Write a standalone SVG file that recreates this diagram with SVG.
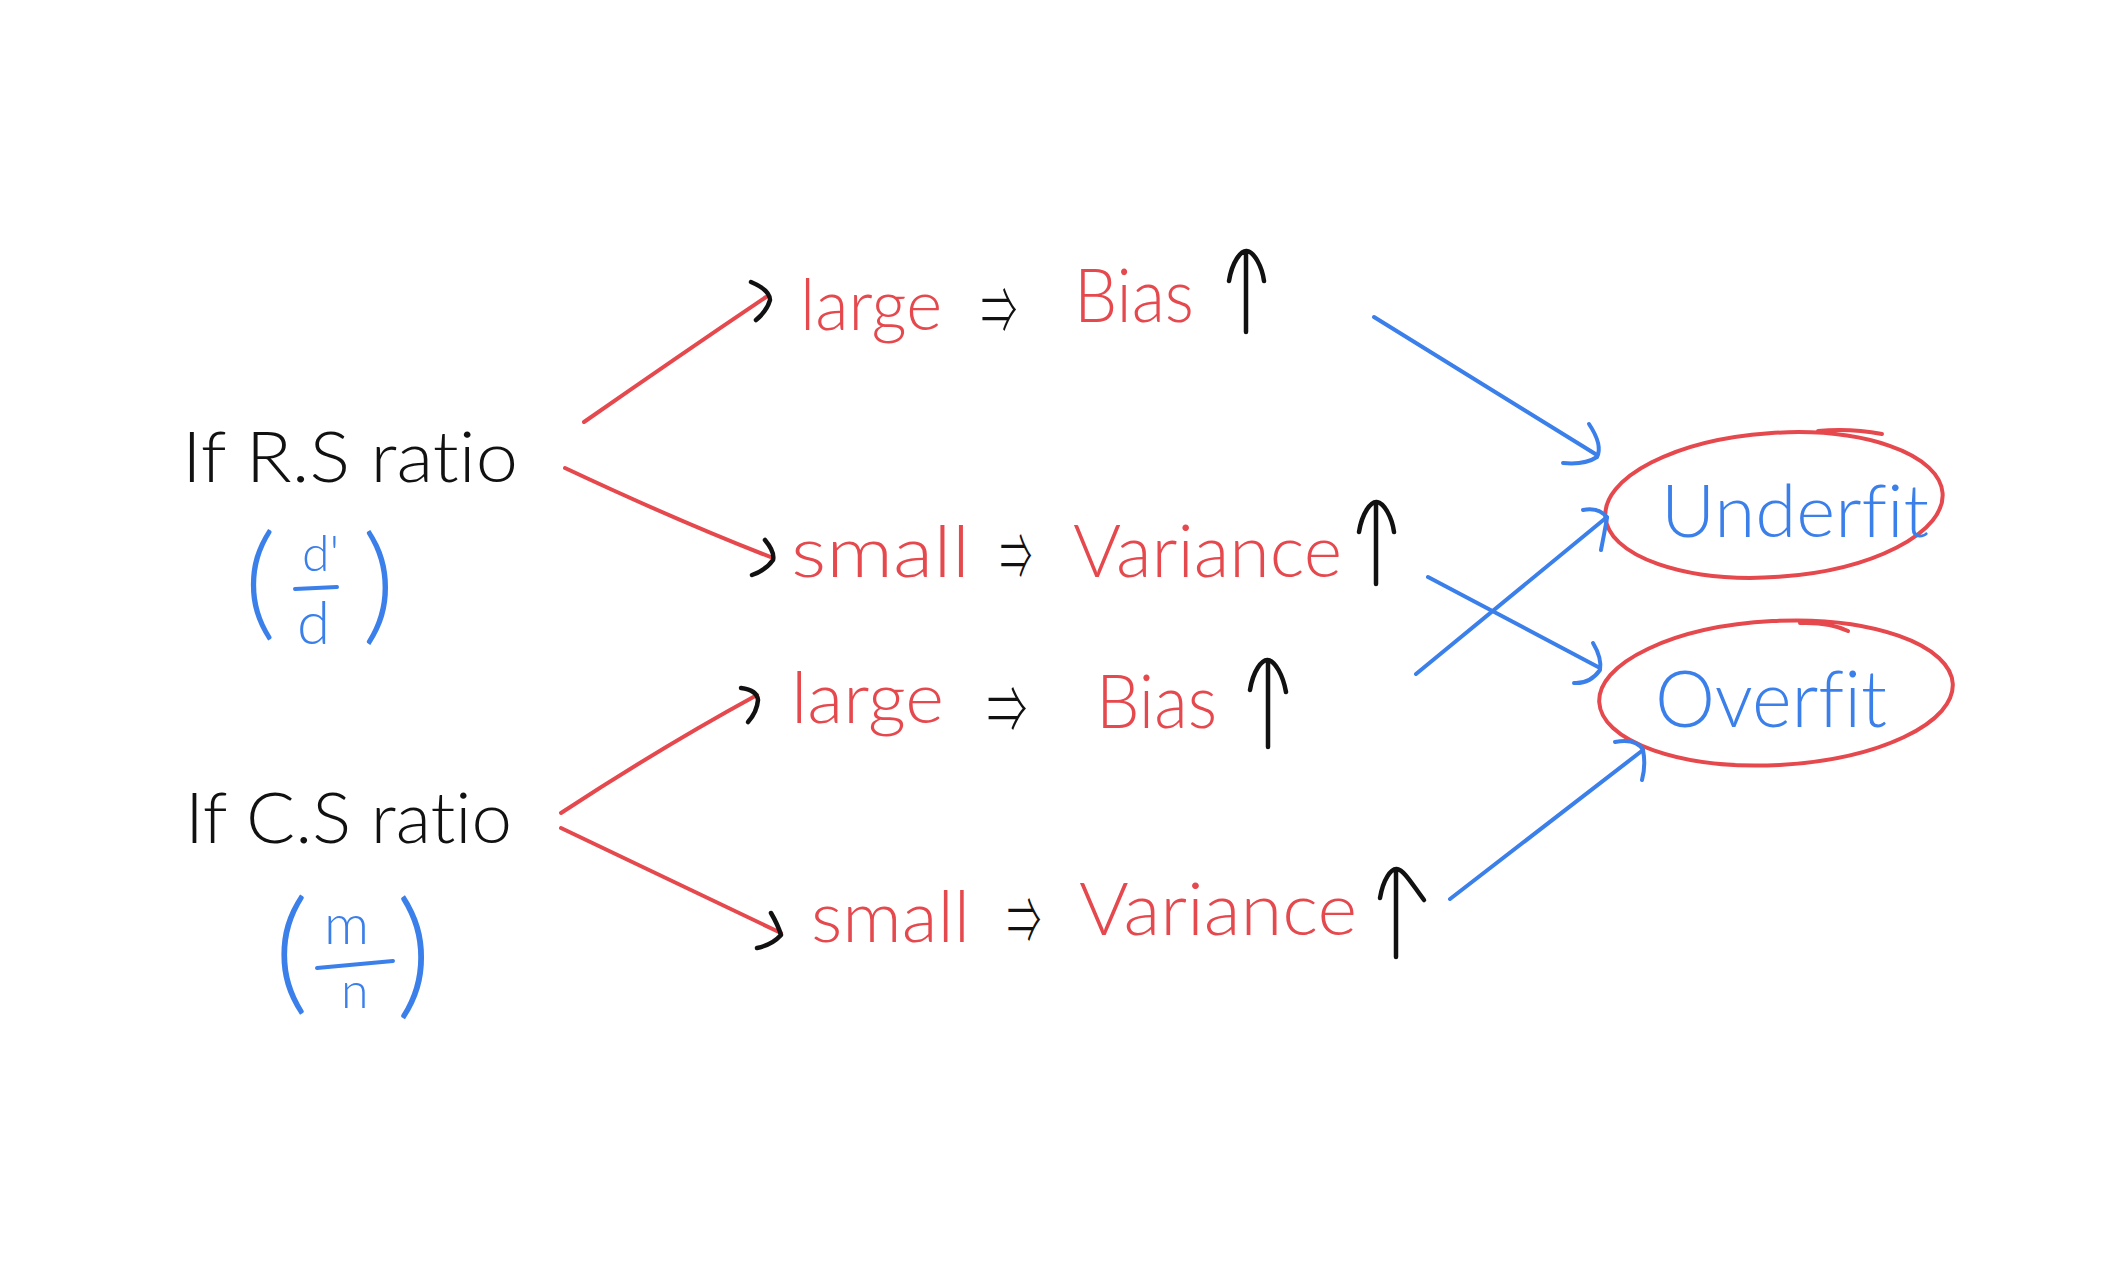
<svg xmlns="http://www.w3.org/2000/svg" width="2119" height="1280" viewBox="0 0 2119 1280">
<style>
.hw{font-family:Lato,"Open Sans","DejaVu Sans",sans-serif;font-weight:300;font-variant-ligatures:none}
.k{fill:#111111}
.r{fill:#E5484D}
.b{fill:#3B7FEA}
.sym{font-family:"Noto Sans CJK SC","DejaVu Sans",sans-serif;fill:#111111;font-weight:300}
.lr{fill:none;stroke:#E5484D;stroke-width:4;stroke-linecap:round;stroke-linejoin:round}
.lk{fill:none;stroke:#111111;stroke-width:4.5;stroke-linecap:round;stroke-linejoin:round}
.lb{fill:none;stroke:#3B7FEA;stroke-width:4;stroke-linecap:round;stroke-linejoin:round}
</style>
<rect width="2119" height="1280" fill="#ffffff"/>

<g id="rs-ratio">
<text class="hw k" x="182" y="482" font-size="70" textLength="336" lengthAdjust="spacingAndGlyphs">If R.S ratio</text>
</g>
<g id="rs-fraction">
<text class="hw b" x="244" y="624" font-size="125">(</text>
<text class="hw b"><tspan x="302" y="571" font-size="50">d'</tspan><tspan x="297" y="644" font-size="60">d</tspan></text>
<path class="lb" d="M295 589 L337 587"/>
<text class="hw b" x="362" y="628" font-size="128">)</text>
</g>

<g id="cs-ratio">
<text class="hw k" x="185" y="843" font-size="70" textLength="327" lengthAdjust="spacingAndGlyphs">If C.S ratio</text>
</g>
<g id="cs-fraction">
<text class="hw b" x="274" y="997" font-size="135">(</text>
<text class="hw b"><tspan x="324" y="944" font-size="56">m</tspan><tspan x="341" y="1008" font-size="50">n</tspan></text>
<path class="lb" d="M317 968 L393 961"/>
<text class="hw b" x="396" y="1001" font-size="138">)</text>
</g>

<g id="row1-large-bias">
<text class="hw r" x="800" y="330" font-size="70" textLength="142" lengthAdjust="spacingAndGlyphs">large</text>
<text class="sym" x="981" y="334" font-size="66" textLength="36" lengthAdjust="spacingAndGlyphs">⇒</text>
<text class="hw r" x="1074" y="322" font-size="74" textLength="120" lengthAdjust="spacingAndGlyphs">Bias</text>
<path class="lk" d="M1246 332 L1246 252 M1229 281 C1232 262 1241 250 1247 251 C1254 252 1262 266 1264 281"/>
</g>

<g id="row2-small-variance">
<text class="hw r" x="791" y="577" font-size="70" textLength="179" lengthAdjust="spacingAndGlyphs">small</text>
<text class="sym" x="1000" y="580" font-size="66" textLength="32" lengthAdjust="spacingAndGlyphs">⇒</text>
<text class="hw r" x="1073" y="577" font-size="72" textLength="269" lengthAdjust="spacingAndGlyphs">Variance</text>
<path class="lk" d="M1376 584 L1376 503 M1359 532 C1362 513 1371 501 1377 502 C1384 503 1392 517 1394 532"/>
</g>

<g id="row3-large-bias">
<text class="hw r" x="791" y="723" font-size="70" textLength="153" lengthAdjust="spacingAndGlyphs">large</text>
<text class="sym" x="987" y="733" font-size="66" textLength="40" lengthAdjust="spacingAndGlyphs">⇒</text>
<text class="hw r" x="1096" y="728" font-size="74" textLength="121" lengthAdjust="spacingAndGlyphs">Bias</text>
<path class="lk" d="M1268 747 L1268 661 M1250 690 C1253 671 1262 659 1268 660 C1275 661 1283 675 1286 692"/>
</g>

<g id="row4-small-variance">
<text class="hw r" x="811" y="942" font-size="70" textLength="159" lengthAdjust="spacingAndGlyphs">small</text>
<text class="sym" x="1007" y="944" font-size="66" textLength="34" lengthAdjust="spacingAndGlyphs">⇒</text>
<text class="hw r" x="1079" y="935" font-size="72" textLength="278" lengthAdjust="spacingAndGlyphs">Variance</text>
<path class="lk" d="M1396 957 L1396 871 M1380 898 C1383 880 1391 868 1397 869 C1404 870 1412 884 1424 900"/>
</g>

<g id="underfit">
<ellipse cx="1774" cy="505" rx="169" ry="72" transform="rotate(-4 1774 505)" fill="none" stroke="#E5484D" stroke-width="4"/>
<path class="lr" d="M1818 431 Q1850 428 1882 434"/>
<text class="hw b" x="1661" y="537" font-size="72" textLength="268" lengthAdjust="spacingAndGlyphs">Underfit</text>
</g>

<g id="overfit">
<ellipse cx="1776" cy="693" rx="177" ry="72" transform="rotate(-3 1776 693)" fill="none" stroke="#E5484D" stroke-width="4"/>
<path class="lr" d="M1800 623 Q1830 622 1848 631"/>
<text class="hw b" x="1655" y="727" font-size="78" textLength="232" lengthAdjust="spacingAndGlyphs">Overfit</text>
</g>

<g id="connectors">
<path class="lr" d="M584 422 Q680 355 766 297"/>
<path class="lk" d="M751 282 Q770 290 770 300 Q767 311 756 320"/>
<path class="lr" d="M565 468 Q680 522 773 558"/>
<path class="lk" d="M765 540 Q775 552 773 560 Q766 570 752 575"/>
<path class="lr" d="M561 813 Q660 748 757 695"/>
<path class="lk" d="M741 688 Q757 690 758 700 Q757 712 748 722"/>
<path class="lr" d="M561 828 Q670 880 781 933"/>
<path class="lk" d="M771 913 Q778 925 781 935 Q772 945 757 948"/>

<path class="lb" d="M1374 317 L1597 455"/>
<path class="lb" d="M1589 424 Q1603 445 1597 457 Q1585 465 1563 463"/>
<path class="lb" d="M1416 674 L1607 517"/>
<path class="lb" d="M1583 510 Q1600 507 1607 518 Q1604 535 1601 550"/>
<path class="lb" d="M1428 577 L1600 668"/>
<path class="lb" d="M1593 643 Q1602 658 1600 670 Q1590 684 1574 683"/>
<path class="lb" d="M1450 899 L1643 750"/>
<path class="lb" d="M1615 742 Q1636 738 1643 750 Q1646 765 1642 780"/>
</g>
</svg>
